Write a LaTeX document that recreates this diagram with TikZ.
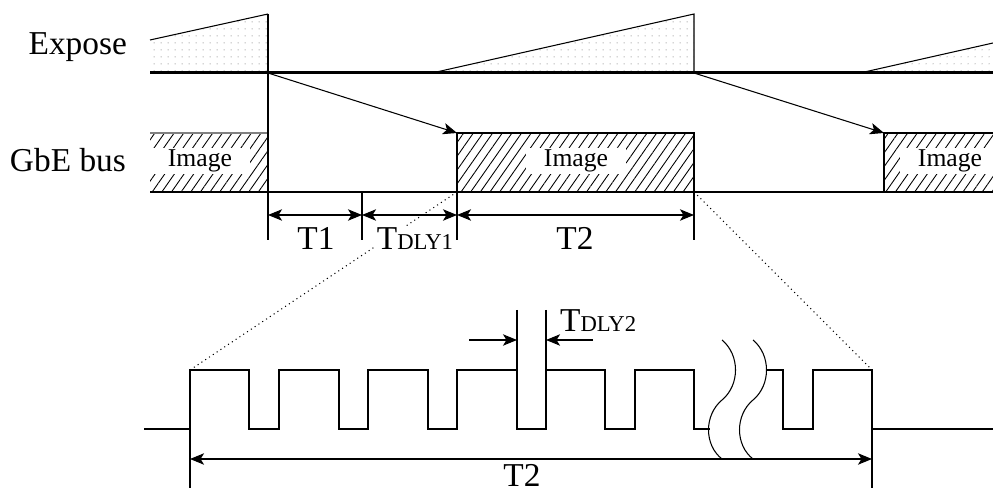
\documentclass[tikz,border=0pt]{standalone}
\usepackage{fontspec}
\setmainfont{Liberation Serif}
\usetikzlibrary{arrows.meta,patterns.meta}

\newcommand{\Tsub}[1]{T{\fontsize{12.9}{13}\selectfont #1}}

\begin{document}
\begin{tikzpicture}
  [x=0.02cm,y=-0.02cm,
   sig/.style={line width=1.7pt},
   fine/.style={line width=0.6pt},
   tip/.style={-{Stealth[length=8pt,width=6.5pt,inset=2pt]}},
   dim/.style={fine,{Stealth[length=8pt,width=6.5pt,inset=2pt]}-{Stealth[length=8pt,width=6.5pt,inset=2pt]}},
   imgfill/.style={pattern={Lines[angle=55,distance=4.5pt,line width=0.5pt]}},
   expfill/.style={pattern={Dots[distance=4pt,radius=0.35pt]},pattern color=black!45},
   lbl/.style={font=\fontsize{19}{20}\selectfont,anchor=base,inner sep=1pt},
   img/.style={fill=white,font=\fontsize{14.6}{16}\selectfont,inner xsep=0.36cm,inner ysep=0pt,minimum height=0.52cm}]
    \useasboundingbox (0,0) rectangle (993,492);

    % row names
    \node[lbl,anchor=base east] (expose) at (129,55)  {Expose};
    \node[lbl,anchor=base east] (gbe)    at (128,172) {GbE bus};

    % exposure ramps
    \fill[expfill] (150,73) -- (150,40) -- (268,14) -- (268,73) -- cycle;
    \draw[fine] (150,40) -- (268,14);
    \fill[expfill] (432,73) -- (694,14) -- (694,73) -- cycle;
    \draw[fine] (432,73) -- (694,14) -- (694,73);
    \fill[expfill] (860,73) -- (993,43) -- (993,73) -- cycle;
    \draw[fine] (860,73) -- (993,43);

    % image transfers
    \fill[imgfill] (150,133) rectangle (268,192);
    \draw[fine,gray] (150,133) -- (268,133);
    \fill[imgfill] (457,133) rectangle (694,192);
    \draw[fine] (457,192) -- (457,133) -- (694,133) -- (694,192);
    \fill[imgfill] (884,133) rectangle (993,192);
    \draw[fine] (884,192) -- (884,133) -- (993,133);

    \node[img] (img1) at (200,161) {Image};
    \node[img] (img2) at (576,161) {Image};
    \node[img] (img3) at (950,161) {Image};

    \draw[sig] (150,73) -- (993,73);
    \draw[sig] (150,192) -- (993,192);

    % trigger to transfer
    \coordinate (e1) at (268,73);
    \coordinate (e2) at (694,73);
    \coordinate (g2) at (457,133);
    \coordinate (g3) at (884,133);
    \draw[fine,tip] (e1) -- (g2);
    \draw[fine,tip] (e2) -- (g3);

    % ticks and spans
    \draw[fine] (268,14) -- (268,240);
    \draw[fine] (362,192) -- (362,240);
    \draw[fine] (457,192) -- (457,240);
    \draw[fine] (694,192) -- (694,240);
    \draw[dim] (268,215) -- (362,215);
    \draw[dim] (362,215) -- (457,215);
    \draw[dim] (457,215) -- (694,215);

    % zoom lines
    \draw[dotted,fine] (457,192) -- (190,370);
    \draw[dotted,fine] (694,192) -- (872,370);

    \node[lbl] (t1)   at (316,250) {T1};
    \node[lbl,fill=white] (tdly1) at (415,250) {\Tsub{DLY1}};
    \node[lbl] (t2)   at (575,250) {T2};

    % packet train
    \draw[fine] (144,429) -- (190,429) -- (190,370) -- (249,370) -- (249,429) -- (279,429)
      -- (279,370) -- (339,370) -- (339,429) -- (368,429) -- (368,370) -- (428,370)
      -- (428,429) -- (457,429) -- (457,370) -- (517,370) -- (517,429) -- (546,429)
      -- (546,370) -- (605,370) -- (605,429) -- (635,429) -- (635,370) -- (694,370)
      -- (694,429) -- (710,429);
    \draw[fine] (766,370) -- (783,370) -- (783,429) -- (813,429) -- (813,370) -- (872,370)
      -- (872,429) -- (993,429);

    % break marks
    \draw[fine] (722,340) .. controls (740,355) and (740,385) .. (722,400)
      .. controls (704,415) and (704,445) .. (722,459);
    \draw[fine] (753,340) .. controls (771,355) and (771,385) .. (753,400)
      .. controls (735,415) and (735,445) .. (753,459);

    \draw[fine] (190,429) -- (190,488);
    \draw[fine] (872,370) -- (872,488);
    \draw[fine] (517,310) -- (517,370);
    \draw[fine] (546,310) -- (546,370);

    \draw[dim] (190,459) -- (872,459);
    \node[lbl,inner sep=0pt] (t2b) at (522,487) {T2};

    \coordinate (d1) at (469,340);
    \coordinate (d2) at (593,340);
    \draw[fine,tip] (d1) -- (517,340);
    \draw[fine,tip] (d2) -- (546,340);
    \node[lbl,anchor=base west] (tdly2) at (558,332) {\Tsub{DLY2}};

\end{tikzpicture}
\end{document}
